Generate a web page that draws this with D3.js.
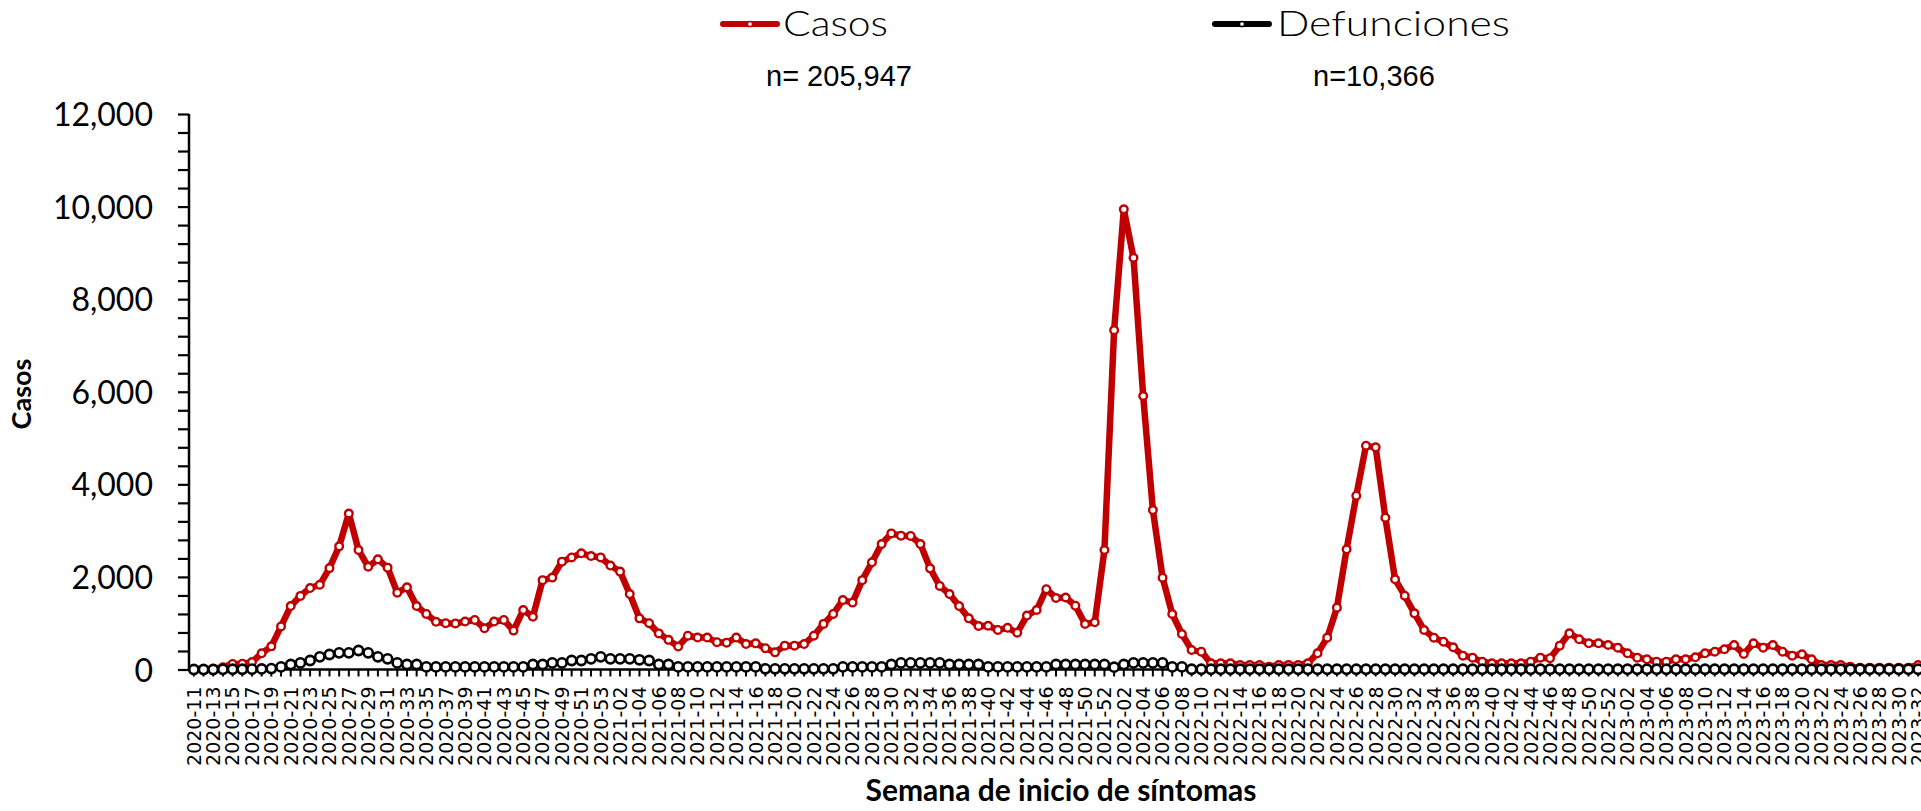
<!DOCTYPE html>
<html><head><meta charset="utf-8">
<script src="https://cdn.jsdelivr.net/npm/d3@7"></script>
<style>html,body{margin:0;padding:0;background:#fff;overflow:hidden}</style>
</head><body>
<svg id="chart" width="1921" height="811"></svg>
<script>
// ---- data ----
const yearWeeks = [["2020", 11, 53], ["2021", 1, 52], ["2022", 1, 52], ["2023", 1, 32]];
const categories = [];
yearWeeks.forEach(([y, a, b]) => { for (let w = a; w <= b; w++) categories.push(y + "-" + String(w).padStart(2, "0")); });

const casos = [
  10,10,15,50,120,125,160,350,500,930,
  1370,1590,1760,1830,2190,2660,3370,2580,2220,2380,
  2200,1660,1775,1370,1200,1030,1000,995,1035,1070,
  890,1035,1070,840,1285,1140,1930,1985,2330,2420,
  2510,2450,2420,2245,2115,1630,1105,1000,780,640,
  495,730,690,690,590,580,690,550,565,460,
  370,515,515,550,730,985,1200,1500,1445,1930,
  2315,2710,2940,2890,2885,2710,2185,1805,1630,1370,
  1105,940,945,855,900,795,1165,1285,1735,1545,
  1555,1378,983,1019,2581,7331,9940,8895,5908,3445,
  1983,1199,767,421,385,134,134,134,97,97,
  97,60,97,97,97,134,350,688,1336,2596,
  3755,4835,4799,3279,1948,1594,1213,853,688,601,
  479,299,256,169,134,134,134,134,169,256,
  244,515,781,652,566,566,529,472,350,256,
  220,169,169,220,220,263,350,385,436,529,
  335,566,472,529,385,299,328,220,97,97,
  97,60,40,40,40,40,40,40,97
];
const defunciones = [
  0,0,0,3,5,5,8,12,20,56,
  108,143,194,273,324,360,360,410,360,273,
  230,143,108,108,56,56,56,56,56,56,
  56,56,56,56,56,108,108,143,143,194,
  194,230,273,230,230,230,210,194,108,108,
  56,56,56,56,56,56,56,56,56,15,
  15,15,15,15,15,15,15,56,56,56,
  56,56,108,143,143,143,143,143,108,108,
  108,108,56,56,56,56,56,56,56,108,
  108,108,108,108,108,50,108,143,143,143,
  143,56,56,5,5,5,5,5,5,5,
  5,5,5,5,5,5,5,5,5,5,
  5,5,5,5,5,5,5,5,5,5,
  5,5,5,5,5,5,5,5,5,5,
  5,5,5,5,5,5,5,5,5,5,
  5,5,5,5,5,5,5,5,5,5,
  5,5,5,5,5,5,5,5,5,5,
  5,5,5,5,5,5,5,5,5
];
const yTicks = [0, 2000, 4000, 6000, 8000, 10000, 12000];
const seriesNames = ["Casos", "Defunciones"];
const totals = ["n= 205,947", "n=10,366"];

// ---- layout ----
const svg = d3.select("#chart");
const x0 = 189, x1 = 1923, yBottom = 669.5, yTop = 114;

const x = d3.scaleBand().domain(categories).range([x0, x1]).paddingInner(0).paddingOuter(0);
const xc = d => x(d) + x.bandwidth() / 2;
const y = d3.scaleLinear().domain([0, 12000]).range([yBottom, yTop]);

const fmt = d3.format(",");

// Y axis
const yAxis = d3.axisLeft(y).tickValues(d3.range(0, 12001, 400)).tickSize(11)
  .tickFormat(d => yTicks.includes(d) ? fmt(d) : "");
const gy = svg.append("g").attr("transform", `translate(${x0},0)`).call(yAxis);
gy.select(".domain").attr("stroke", "#000").attr("stroke-width", 2.5).attr("d", `M0,${yTop}V${yBottom + 1}`);
gy.selectAll(".tick line").attr("stroke", "#000").attr("stroke-width", 2.2);
gy.selectAll(".tick text").attr("x", -36).attr("dy", "0.36em")
  .style("font-family", "Lato, sans-serif").style("font-size", "32px").attr("fill", "#000");

// X axis
const xAxis = d3.axisBottom(x).tickSize(7).tickFormat((d, i) => i % 2 === 0 ? d : "");
const gx = svg.append("g").attr("transform", `translate(0,${yBottom})`).call(xAxis);
gx.select(".domain").attr("stroke", "#000").attr("stroke-width", 2.5).attr("d", `M${x0 - 1},0H1921`);
gx.selectAll(".tick line").attr("stroke", "#000").attr("stroke-width", 2);
gx.selectAll(".tick text")
  .attr("transform", "rotate(-90)")
  .attr("x", -17).attr("y", 0).attr("dy", "0.36em")
  .style("text-anchor", "end")
  .style("font-family", "'DejaVu Sans', sans-serif").style("font-size", "19px").attr("fill", "#000");

// axis titles
svg.append("text").attr("transform", "translate(31,394) rotate(-90)")
  .attr("text-anchor", "middle")
  .style("font-family", "Lato, sans-serif").style("font-weight", "bold").style("font-size", "27px")
  .text("Casos");
svg.append("text").attr("x", 1061).attr("y", 801).attr("text-anchor", "middle")
  .style("font-family", "Lato, sans-serif").style("font-weight", "bold").style("font-size", "30px")
  .text("Semana de inicio de síntomas");

// lines
const series = [
  { name: seriesNames[0], values: casos, color: "#C00000", width: 6.5, r: 3.8, sw: 2.4 },
  { name: seriesNames[1], values: defunciones, color: "#000000", width: 5, r: 4.6, sw: 2.6 }
];
const line = d3.line().x((d, i) => xc(categories[i])).y(d => y(d));
series.forEach(s => {
  svg.append("path").datum(s.values).attr("d", line)
    .attr("fill", "none").attr("stroke", s.color).attr("stroke-width", s.width)
    .attr("stroke-linejoin", "round").attr("stroke-linecap", "round");
  svg.append("g").selectAll("circle").data(s.values).join("circle")
    .attr("cx", (d, i) => xc(categories[i])).attr("cy", d => y(d)).attr("r", s.r)
    .attr("fill", "#fff").attr("stroke", s.color).attr("stroke-width", s.sw);
});

// legend
const legendPos = [{ lx: 723, tx: 783, len: 105, nx: 766 }, { lx: 1215, tx: 1277, len: 233, nx: 1313 }];
series.forEach((s, k) => {
  const p = legendPos[k];
  const g = svg.append("g");
  g.append("line").attr("x1", p.lx).attr("x2", p.lx + 54).attr("y1", 24).attr("y2", 24)
    .attr("stroke", s.color).attr("stroke-width", 6).attr("stroke-linecap", "round");
  g.append("circle").attr("cx", p.lx + 27).attr("cy", 24).attr("r", 2.6)
    .attr("fill", "#fff").attr("stroke", s.color).attr("stroke-width", 1.5);
  g.append("text").attr("x", p.tx).attr("y", 36)
    .attr("textLength", p.len).attr("lengthAdjust", "spacingAndGlyphs")
    .style("font-family", "Lato, sans-serif").style("font-weight", "300").style("font-size", "36px")
    .text(s.name);
  g.append("text").attr("x", p.nx).attr("y", 86)
    .style("font-family", "'Liberation Sans', Arial, sans-serif").style("font-size", "29px")
    .text(totals[k]);
});
</script>
</body></html>
